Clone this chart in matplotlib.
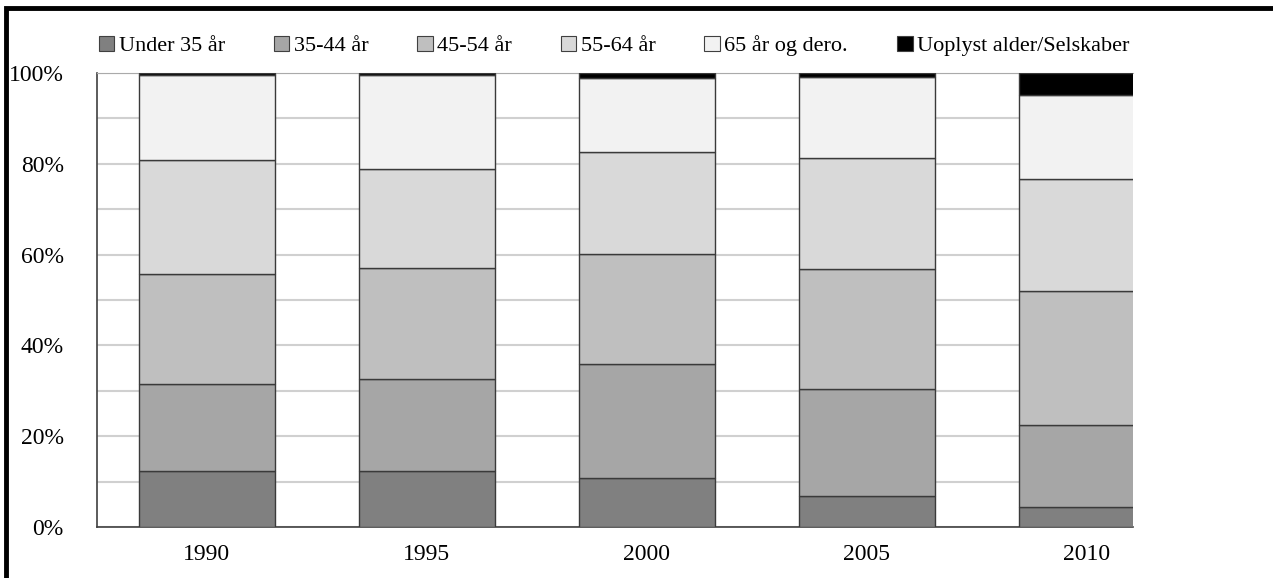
import matplotlib
matplotlib.use("Agg")
import matplotlib.pyplot as plt
from matplotlib.patches import Patch, Rectangle
import numpy as np

years = ["1990", "1995", "2000", "2005", "2010"]
series_names = ["Under 35 år", "35-44 år", "45-54 år", "55-64 år", "65 år og dero.", "Uoplyst alder/Selskaber"]
under35 = [12.4, 12.4, 10.9, 6.9, 4.4]
age35_44 = [19.0, 20.1, 25.0, 23.6, 18.0]
age45_54 = [24.3, 24.5, 24.2, 26.3, 29.6]
age55_64 = [25.1, 21.9, 22.5, 24.4, 24.7]
age65plus = [18.7, 20.6, 16.2, 17.9, 18.5]
unknown = [0.5, 0.5, 1.2, 0.9, 4.8]
colors = ["#808080", "#a6a6a6", "#bfbfbf", "#d9d9d9", "#f2f2f2", "#000000"]

plt.rcParams['font.family'] = ['Liberation Serif', 'DejaVu Serif']

fig = plt.figure(figsize=(12.73, 5.78), dpi=100)
ax = fig.add_axes([97/1273, 1-527/578, (1133-97)/1273, (527-73)/578])

x = np.arange(len(years))
bottom = np.zeros(len(years))
data = [under35, age35_44, age45_54, age55_64, age65plus, unknown]
for vals, col, name in zip(data, colors, series_names):
    vals = np.array(vals)
    ax.bar(x, vals, 0.62, bottom=bottom, color=col, edgecolor="#3a3a3a",
           linewidth=1.0, label=name, zorder=3)
    bottom += vals

ax.set_xlim(-0.5, 4.21)
ax.set_ylim(0, 100)
ax.set_yticks(np.arange(0, 101, 20))
ax.set_yticks(np.arange(0, 101, 10), minor=True)
ax.set_yticklabels([f"{v}%" for v in range(0, 101, 20)])
ax.set_xticks(x)
ax.set_xticklabels(years)
ax.grid(axis='y', which='both', color="#d0d0d0", linewidth=1.5, zorder=0)
ax.tick_params(axis='both', which='both', length=0, labelsize=17, colors="black")
ax.tick_params(axis='y', pad=24)
ax.tick_params(axis='x', pad=12)
ax.spines["right"].set_visible(False)
ax.spines["top"].set_color("#aaaaaa")
ax.spines["left"].set_color("#404040")
ax.spines["bottom"].set_color("#404040")
ax.spines["left"].set_linewidth(1.2)
ax.spines["bottom"].set_linewidth(1.2)

handles = [Patch(facecolor=c, edgecolor="#404040", linewidth=0.8) for c in colors]
fig.legend(handles, series_names, loc='center', bbox_to_anchor=(614/1273, 1-46/578),
           ncol=6, frameon=False, fontsize=16, handlelength=0.7, handleheight=0.7,
           handletextpad=0.2, columnspacing=2.2, borderaxespad=0)

# outer frame
fig.patches.append(Rectangle((6/1273, -0.1), 1.2, 1 - 8/578 + 0.1, transform=fig.transFigure,
                             fill=False, edgecolor="black", linewidth=3.5, zorder=10))

fig.savefig("out.png", dpi=100)
